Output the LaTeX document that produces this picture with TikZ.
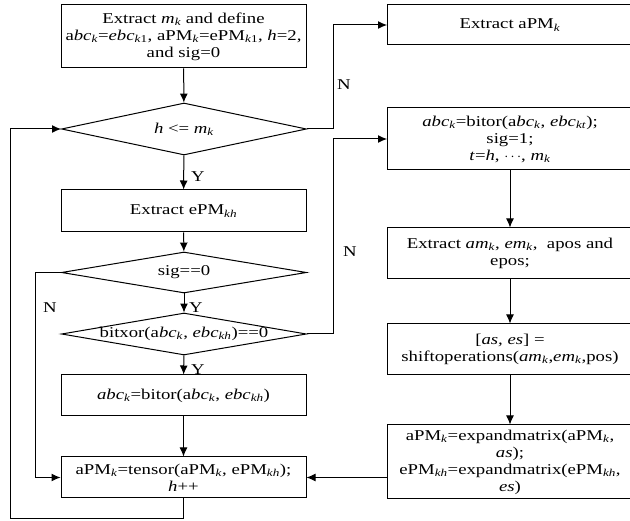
\documentclass[tikz,border=0pt]{standalone}
\usepackage{fontspec}
\setmainfont[FakeStretch=1.25]{Liberation Serif}
\usetikzlibrary{shapes.geometric,arrows.meta}
\newcommand{\ik}[1]{\textsubscript{\textit{#1}}}

\begin{document}
\begin{tikzpicture}[x=1pt, y=-1pt,
    process/.style={rectangle, draw, line width=1pt, minimum width=245pt, align=center, inner sep=2pt, font=\fontsize{15}{17}\selectfont},
    decision/.style={diamond, draw, line width=1pt, minimum width=245pt, inner sep=0pt, font=\fontsize{15}{17}\selectfont},
    flow/.style={-{Latex[length=9pt,width=8pt]}, line width=1pt},
    answer/.style={font=\fontsize{15}{17}\selectfont}
]
    \useasboundingbox (0,0) rectangle (630,521);

    % Left column
    \node[process, minimum height=63pt] (start) at (183.5,36.5) {Extract \textit{m}\ik{k} and define\\ a\textit{bc}\ik{k}=\textit{ebc}\textsubscript{\textit{k}1}, aPM\ik{k}=ePM\textsubscript{\textit{k}1}, \textit{h}=2,\\ and sig=0};
    \node[decision, minimum height=52pt] (loop) at (184,129) {\makebox[0pt]{\textit{h} <= \textit{m}\ik{k}}};
    \node[process, minimum height=42pt] (getepm) at (183.5,211) {Extract ePM\ik{kh}};
    \node[decision, minimum height=41pt] (sig) at (184,272.5) {\makebox[0pt]{sig==0}};
    \node[decision, minimum height=42pt] (xor) at (184,334) {\makebox[0pt]{bitxor(a\textit{bc}\ik{k}, \textit{ebc}\ik{kh})==0}};
    \node[process, minimum height=41pt] (bitor) at (183.5,395.5) {\textit{abc}\ik{k}=bitor(a\textit{bc}\ik{k}, \textit{ebc}\ik{kh})};
    \node[process, minimum height=41pt] (tensor) at (183.5,477.5) {aPM\ik{k}=tensor(aPM\ik{k}, ePM\ik{kh});\\ \textit{h}++};

    % Right column
    \node[process, minimum height=40pt] (getapm) at (510,25) {Extract aPM\ik{k}};
    \node[process, minimum height=62pt] (setsig) at (510,139) {\textit{abc}\ik{k}=bitor(a\textit{bc}\ik{k}, \textit{ebc}\ik{kt});\\ sig=1;\\ \textit{t}=\textit{h}, $\cdots$, \textit{m}\ik{k}};
    \node[process, minimum height=51pt] (getpos) at (510,253.5) {Extract \textit{am}\ik{k}, \textit{em}\ik{k},~ apos and\\ epos;};
    \node[process, minimum height=51pt] (shift) at (510,349.5) {[\textit{as, es}] =\\ shiftoperations(\textit{am}\ik{k},\textit{em}\ik{k},pos)};
    \node[process, minimum height=74pt] (expand) at (510,462) {aPM\ik{k}=expandmatrix(aPM\ik{k},\\ \textit{as});\\ ePM\ik{kh}=expandmatrix(ePM\ik{kh},\\ \textit{es})};

    % Branch labels
    \node[answer] (y1) at (198,177) {Y};
    \node[answer] (y2) at (196,308) {Y};
    \node[answer] (y3) at (198,370) {Y};
    \node[answer] (n1) at (344,85) {N};
    \node[answer] (n2) at (50,308) {N};
    \node[answer] (n3) at (350,252) {N};

    % Flow
    \draw[flow] (start) -- (loop);
    \draw[flow] (loop) -- (getepm);
    \draw[flow] (getepm) -- (sig);
    \draw[flow] (sig) -- (xor);
    \draw[flow] (xor) -- (bitor);
    \draw[flow] (bitor) -- (tensor);
    \draw[flow] (loop.east) -- (333,129) |- (getapm.west);
    \draw[flow] (xor.east) -- (333,334) |- (setsig.west);
    \draw[flow] (sig.west) -- (35,272.5) |- (tensor.west);
    \draw[flow] (setsig) -- (getpos);
    \draw[flow] (getpos) -- (shift);
    \draw[flow] (shift) -- (expand);
    \draw[flow] (expand.west |- tensor.east) -- (tensor.east);
    \draw[flow] (tensor.south) -- (183.5,519) -| (10,129) -- (loop.west);
\end{tikzpicture}
\end{document}
